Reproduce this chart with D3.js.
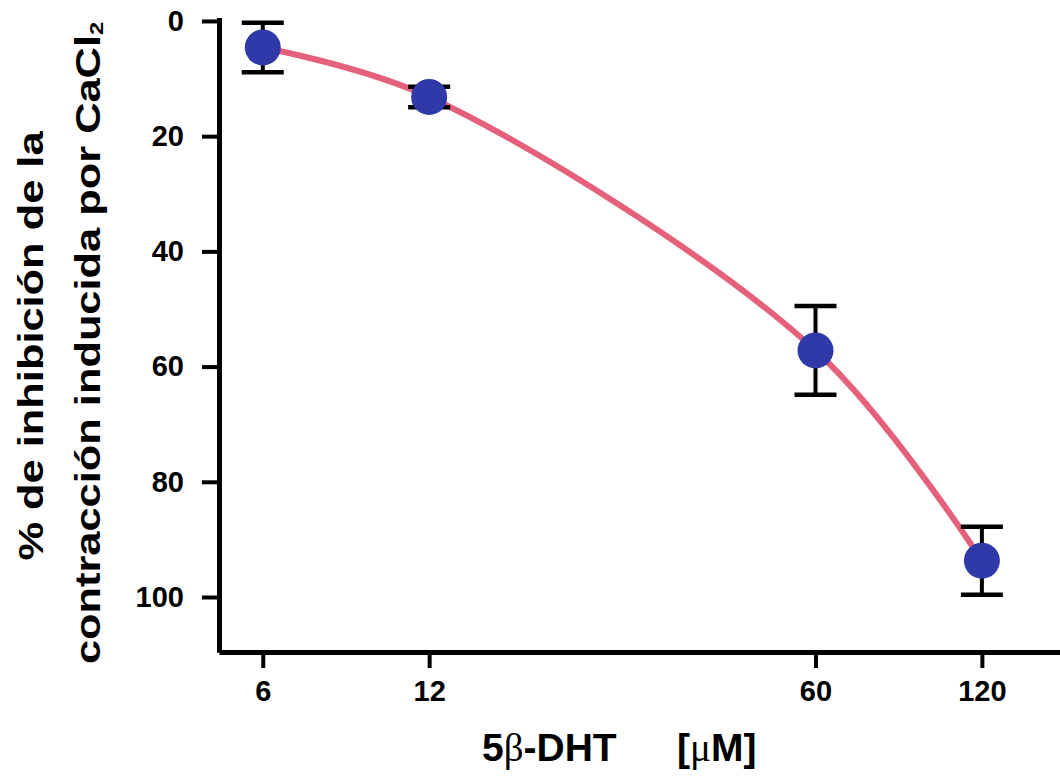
<!DOCTYPE html>
<html>
<head>
<meta charset="utf-8">
<script src="https://cdn.jsdelivr.net/npm/d3@7"></script>
<style>
  body { margin: 0; background: #fff; }
  text { font-family: Arial, "Liberation Sans", Helvetica, sans-serif; font-weight: bold; fill: #000; }
</style>
</head>
<body>
<div id="chart"></div>
<script>
// dose (uM), % inhibition, error
const concentrations = [6, 12, 60, 120];
const inhibition = [4.6, 13.2, 57.2, 93.7];
const errors = [4.3, 1.8, 7.7, 5.9];
const xTicks = [6, 12, 60, 120];
const yTicks = [0, 20, 40, 60, 80, 100];

const width = 1060, height = 777;

const svg = d3.select("#chart").append("svg")
    .attr("width", width)
    .attr("height", height);

const points = concentrations.map((c, i) => ({ c: c, v: inhibition[i], e: errors[i] }));

// log x axis, y inverted (0 at top)
const xScale = d3.scaleLog()
    .domain([5, 170])
    .range([219, 1065.5]);

const yScale = d3.scaleLinear()
    .domain([-0.6, 109.6])
    .range([17.5, 652.3]);

// y axis
const yAxis = svg.append("g")
    .attr("transform", "translate(219,0)")
    .call(d3.axisLeft(yScale).tickValues(yTicks).tickFormat(d3.format("d"))
        .tickSize(17).tickSizeOuter(0).tickPadding(18));
yAxis.select(".domain").attr("stroke", "#000").attr("stroke-width", 5);
yAxis.selectAll(".tick line").attr("stroke", "#000").attr("stroke-width", 4);
yAxis.selectAll(".tick text").attr("font-size", "29px").attr("font-family", null);

// x axis
const xAxis = svg.append("g")
    .attr("transform", "translate(0,652)")
    .call(d3.axisBottom(xScale).tickValues(xTicks).tickFormat(d3.format("d"))
        .tickSize(16).tickSizeOuter(0).tickPadding(12));
xAxis.select(".domain").attr("stroke", "#000").attr("stroke-width", 5);
xAxis.selectAll(".tick line").attr("stroke", "#000").attr("stroke-width", 4);
xAxis.selectAll(".tick text").attr("font-size", "29px").attr("font-family", null);

// fitted curve
const line = d3.line()
    .x(d => xScale(d.c))
    .y(d => yScale(d.v))
    .curve(d3.curveCatmullRom);

svg.append("path")
    .datum(points)
    .attr("d", line)
    .attr("fill", "none")
    .attr("stroke", "#e5607b")
    .attr("stroke-width", 6);

// error bars
const bars = svg.selectAll("g.err")
    .data(points)
    .enter()
    .append("g")
    .attr("class", "err");

bars.append("line")
    .attr("x1", d => xScale(d.c))
    .attr("x2", d => xScale(d.c))
    .attr("y1", d => yScale(d.v - d.e))
    .attr("y2", d => yScale(d.v + d.e))
    .attr("stroke", "#000")
    .attr("stroke-width", 4);

[-1, 1].forEach(s => {
    bars.append("line")
        .attr("x1", d => xScale(d.c) - 21)
        .attr("x2", d => xScale(d.c) + 21)
        .attr("y1", d => yScale(d.v + s * d.e))
        .attr("y2", d => yScale(d.v + s * d.e))
        .attr("stroke", "#000")
        .attr("stroke-width", 4.5);
});

// points
svg.selectAll("circle.pt")
    .data(points)
    .enter()
    .append("circle")
    .attr("class", "pt")
    .attr("cx", d => xScale(d.c))
    .attr("cy", d => yScale(d.v))
    .attr("r", 18)
    .attr("fill", "#2f3aa8");

// x axis title
const xt = svg.append("text")
    .attr("x", 482)
    .attr("y", 761)
    .attr("font-size", "39px");
xt.append("tspan").text("5");
xt.append("tspan").attr("font-family", "'Liberation Serif', 'DejaVu Serif', serif").attr("font-weight", "normal").text("β");
xt.append("tspan").text("-DHT");

const xu = svg.append("text")
    .attr("x", 677)
    .attr("y", 761)
    .attr("font-size", "39px");
xu.append("tspan").text("[");
xu.append("tspan").attr("font-family", "'Liberation Serif', 'DejaVu Serif', serif").attr("font-weight", "normal").text("μ");
xu.append("tspan").text("M]");

// y axis title (two lines, stretched along baseline)
svg.append("text")
    .attr("transform", "translate(43,346) rotate(-90) scale(1.24,1)")
    .attr("text-anchor", "middle")
    .attr("font-size", "35px")
    .text("% de inhibición de la");

const yt2 = svg.append("text")
    .attr("transform", "translate(100,343) rotate(-90) scale(1.24,1)")
    .attr("text-anchor", "middle")
    .attr("font-size", "35px");
yt2.append("tspan").text("contracción inducida por CaCl");
yt2.append("tspan").attr("font-size", "19px").attr("dy", 3).text("2");
</script>
</body>
</html>
